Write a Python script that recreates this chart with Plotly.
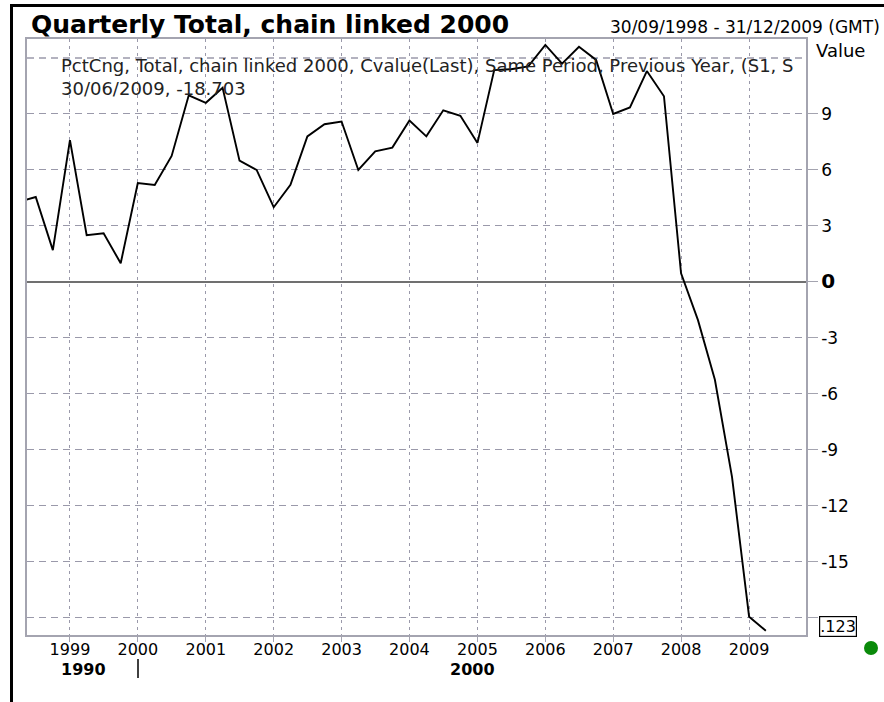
import plotly.graph_objects as go

# ---- data (quarter start dates, % change vs same period previous year) ----
quarters = ["1998-04-01", "1998-07-01", "1998-10-01",
            "1999-01-01", "1999-04-01", "1999-07-01", "1999-10-01",
            "2000-01-01", "2000-04-01", "2000-07-01", "2000-10-01",
            "2001-01-01", "2001-04-01", "2001-07-01", "2001-10-01",
            "2002-01-01", "2002-04-01", "2002-07-01", "2002-10-01",
            "2003-01-01", "2003-04-01", "2003-07-01", "2003-10-01",
            "2004-01-01", "2004-04-01", "2004-07-01", "2004-10-01",
            "2005-01-01", "2005-04-01", "2005-07-01", "2005-10-01",
            "2006-01-01", "2006-04-01", "2006-07-01", "2006-10-01",
            "2007-01-01", "2007-04-01", "2007-07-01", "2007-10-01",
            "2008-01-01", "2008-04-01", "2008-07-01", "2008-10-01",
            "2009-01-01", "2009-04-01"]
pct_change = [4.3, 4.55, 1.7,
              7.6, 2.5, 2.6, 1.0,
              5.3, 5.2, 6.75, 10.0,
              9.6, 10.4, 6.5, 6.0,
              4.0, 5.2, 7.8, 8.45,
              8.6, 6.0, 7.0, 7.2,
              8.65, 7.8, 9.2, 8.9,
              7.45, 11.35, 11.4, 11.55,
              12.7, 11.7, 12.6, 11.9,
              9.0, 9.35, 11.3, 9.95,
              0.46, -2.05, -5.25, -10.45,
              -17.95, -18.703]

year_ticks = ["1999-01-01", "2000-01-01", "2001-01-01", "2002-01-01", "2003-01-01",
              "2004-01-01", "2005-01-01", "2006-01-01", "2007-01-01", "2008-01-01",
              "2009-01-01"]
year_labels = ["1999", "2000", "2001", "2002", "2003", "2004", "2005", "2006",
               "2007", "2008", "2009"]
y_ticks = [-18, -15, -12, -9, -6, -3, 0, 3, 6, 9]
y_labels = ["", "-15", "-12", "-9", "-6", "-3",
            "<b><span style='font-size:20px'>0</span></b>", "3", "6", "9"]

title_text = "Quarterly Total, chain linked 2000"
range_text = "30/09/1998 - 31/12/2009 (GMT)"
legend_line1 = ("PctCng, Total, chain linked 2000, Cvalue(Last), Same Period, "
                "Previous Year, (S1, S")
legend_line2 = "30/06/2009, -18.703"

# ---- layout geometry (pixels) ----
W, H = 884, 702
PL, PT, PR, PB = 27, 39, 806, 635
PW, PH = PR - PL, PB - PT


def px(x):
    return (x - PL) / PW


def py(y):
    return (PB - y) / PH


FONT = "DejaVu Sans, Arial, sans-serif"
GRID = "#9a99aa"
FRAME = "#a4a4b0"

fig = go.Figure()
fig.add_trace(go.Scatter(x=quarters, y=pct_change, mode="lines",
                         line=dict(color="black", width=1.9),
                         hoverinfo="skip", showlegend=False))

fig.update_layout(
    width=W, height=H, autosize=False,
    margin=dict(l=PL, r=W - PR, t=PT, b=H - PB, pad=0),
    paper_bgcolor="white", plot_bgcolor="white",
    font=dict(family=FONT, size=17, color="black"),
    showlegend=False,
)

fig.update_xaxes(
    type="date", range=["1998-05-15", "2009-11-03"],
    tickvals=year_ticks, ticktext=year_labels,
    showgrid=True, gridcolor=GRID, gridwidth=1.4, griddash="3px,4px",
    ticks="outside", ticklen=5, tickcolor=FRAME, tickwidth=1.2,
    ticklabelstandoff=-6,
    showline=True, linecolor=FRAME, linewidth=1.5, mirror=True,
    tickfont=dict(family=FONT, size=16, color="black"),
    zeroline=False, fixedrange=True,
)
fig.update_yaxes(
    side="right", range=[-18.93, 13.02],
    tickvals=y_ticks, ticktext=y_labels,
    showgrid=True, gridcolor=GRID, gridwidth=1.4, griddash="7px,5px",
    ticks="outside", ticklen=10, tickcolor=FRAME, tickwidth=1.2,
    showline=True, linecolor=FRAME, linewidth=1.5, mirror=True,
    zeroline=True, zerolinecolor="#707070", zerolinewidth=2,
    tickfont=dict(family=FONT, size=17, color="black"),
    fixedrange=True,
)

# gridline at 12 (no tick label)
fig.add_shape(type="line", xref="paper", yref="y", x0=0, x1=1, y0=12, y1=12,
              line=dict(color=GRID, width=1.4, dash="7px,5px"), layer="below")

# outer black frame (top and left)
fig.add_shape(type="line", xref="paper", yref="paper",
              x0=px(10), x1=px(884), y0=py(5.5), y1=py(5.5),
              line=dict(color="black", width=3))
fig.add_shape(type="line", xref="paper", yref="paper",
              x0=px(11.5), x1=px(11.5), y0=py(4), y1=py(702),
              line=dict(color="black", width=3))

# decade separator
fig.add_shape(type="line", xref="paper", yref="paper",
              x0=px(138), x1=px(138), y0=py(659), y1=py(678),
              line=dict(color="black", width=1.5))

# green status dot
r = 7
fig.add_shape(type="circle", xref="paper", yref="paper",
              x0=px(871 - r), x1=px(871 + r), y0=py(648 + r), y1=py(648 - r),
              fillcolor="#0a8a0a", line=dict(color="#0a8a0a", width=0))

annotations = [
    dict(text="<b>" + title_text + "</b>", x=px(29), y=py(24), xanchor="left",
         yanchor="middle", font=dict(family=FONT, size=25, color="black")),
    dict(text=range_text, x=px(882), y=py(27), xanchor="right",
         yanchor="middle", font=dict(family=FONT, size=17, color="black")),
    dict(text=legend_line1 + "<br>" + legend_line2, x=px(59), y=py(77.5),
         xanchor="left", yanchor="middle",
         width=PR - 59, align="left",
         font=dict(family=FONT, size=18, color="#222222")),
    dict(text="Value", x=px(814), y=py(51), xanchor="left", yanchor="middle",
         font=dict(family=FONT, size=18, color="black")),
    dict(text=".123", x=px(819), y=py(626), xanchor="left", yanchor="middle",
         bordercolor="black", borderwidth=1.2, borderpad=0, bgcolor="white",
         font=dict(family=FONT, size=16, color="black")),
    dict(text="<b>1990</b>", x=px(83), y=py(669), xanchor="center", yanchor="middle",
         font=dict(family=FONT, size=16, color="black")),
    dict(text="<b>2000</b>", x=px(472), y=py(669), xanchor="center", yanchor="middle",
         font=dict(family=FONT, size=16, color="black")),
]
for a in annotations:
    a.update(xref="paper", yref="paper", showarrow=False)
    fig.add_annotation(**a)

fig.write_html(
    "out.html",
    config={"displayModeBar": False},
    post_script="document.body.style.margin='0';"
                "document.documentElement.style.overflow='hidden';",
)
